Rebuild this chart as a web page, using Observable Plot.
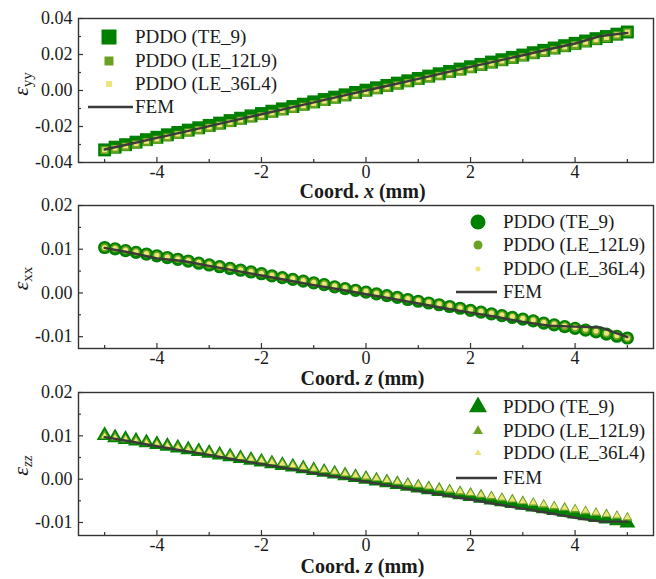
<!DOCTYPE html>
<html><head><meta charset="utf-8">
<script src="https://cdn.jsdelivr.net/npm/d3@7"></script>
<script src="https://cdn.jsdelivr.net/npm/@observablehq/plot@0.6"></script>
<style>
body{margin:0;background:#fff;}
#chart{width:656px;height:579px;position:relative;}
#chart svg{display:block;overflow:visible;}
</style></head><body><div id="chart"></div>
<script>
// ---- data ----
const coords = [-5.0,-4.8,-4.6,-4.4,-4.2,-4.0,-3.8,-3.6,-3.4,-3.2,-3.0,-2.8,-2.6,-2.4,-2.2,-2.0,-1.8,-1.6,-1.4,-1.2,-1.0,-0.8,-0.6,-0.4,-0.2,0.0,0.2,0.4,0.6,0.8,1.0,1.2,1.4,1.6,1.8,2.0,2.2,2.4,2.6,2.8,3.0,3.2,3.4,3.6,3.8,4.0,4.2,4.4,4.6,4.8,5.0];
const femCoords = [-5.0,-4.5,-4.0,-3.5,-3.0,-2.5,-2.0,-1.5,-1.0,-0.5,0.0,0.5,1.0,1.5,2.0,2.5,3.0,3.5,4.0,4.5,5.0];
const seriesNames = ["PDDO (TE_9)","PDDO (LE_12L9)","PDDO (LE_36L4)","FEM"];
const xMajorTicks = [-4,-2,0,2,4];
const xMinorTicks = [-5,-3,-1,1,3,5];

// eps_yy vs x
const eyyTE9 = [-0.0330,-0.0315,-0.0301,-0.0287,-0.0273,-0.0260,-0.0246,-0.0233,-0.0220,-0.0207,-0.0194,-0.0181,-0.0167,-0.0154,-0.0141,-0.0128,-0.0115,-0.0102,-0.0089,-0.0076,-0.0063,-0.0050,-0.0037,-0.0024,-0.0011,0.0002,0.0015,0.0028,0.0041,0.0054,0.0067,0.0080,0.0093,0.0106,0.0119,0.0132,0.0145,0.0158,0.0171,0.0184,0.0197,0.0210,0.0223,0.0236,0.0249,0.0262,0.0275,0.0288,0.0300,0.0313,0.0325];
const eyyLE12 = [-0.0331,-0.0324,-0.0312,-0.0299,-0.0286,-0.0273,-0.0260,-0.0246,-0.0233,-0.0220,-0.0207,-0.0194,-0.0181,-0.0168,-0.0155,-0.0142,-0.0128,-0.0115,-0.0102,-0.0089,-0.0076,-0.0063,-0.0050,-0.0037,-0.0024,-0.0011,0.0003,0.0016,0.0029,0.0042,0.0055,0.0068,0.0081,0.0094,0.0107,0.0120,0.0134,0.0147,0.0160,0.0173,0.0186,0.0199,0.0212,0.0225,0.0238,0.0252,0.0265,0.0278,0.0292,0.0306,0.0323];
const eyyLE36 = [-0.0330,-0.0320,-0.0308,-0.0295,-0.0282,-0.0269,-0.0256,-0.0242,-0.0229,-0.0216,-0.0203,-0.0190,-0.0177,-0.0164,-0.0151,-0.0138,-0.0124,-0.0111,-0.0098,-0.0085,-0.0072,-0.0059,-0.0046,-0.0033,-0.0020,-0.0007,0.0007,0.0020,0.0033,0.0046,0.0059,0.0072,0.0085,0.0098,0.0111,0.0124,0.0138,0.0151,0.0164,0.0177,0.0190,0.0203,0.0216,0.0229,0.0242,0.0256,0.0269,0.0282,0.0295,0.0309,0.0324];
const eyyFEM = [-0.0328,-0.0296,-0.0263,-0.0231,-0.0198,-0.0165,-0.0132,-0.0099,-0.0066,-0.0033,0.0000,0.0032,0.0065,0.0098,0.0131,0.0163,0.0196,0.0229,0.0261,0.0303,0.0320];

// eps_xx vs z
const exxTE9 = [0.0104,0.0101,0.0097,0.0093,0.0089,0.0085,0.0081,0.0077,0.0073,0.0068,0.0064,0.0060,0.0056,0.0052,0.0048,0.0044,0.0039,0.0035,0.0031,0.0027,0.0023,0.0019,0.0014,0.0010,0.0006,0.0002,-0.0002,-0.0006,-0.0010,-0.0015,-0.0019,-0.0023,-0.0027,-0.0031,-0.0035,-0.0040,-0.0044,-0.0048,-0.0052,-0.0056,-0.0060,-0.0064,-0.0069,-0.0073,-0.0077,-0.0081,-0.0085,-0.0089,-0.0094,-0.0099,-0.0103];
const exxLE12 = [0.0104,0.0102,0.0098,0.0094,0.0090,0.0086,0.0082,0.0078,0.0074,0.0069,0.0065,0.0061,0.0057,0.0053,0.0049,0.0045,0.0040,0.0036,0.0032,0.0028,0.0024,0.0020,0.0015,0.0011,0.0007,0.0003,-0.0001,-0.0005,-0.0009,-0.0014,-0.0018,-0.0022,-0.0026,-0.0030,-0.0034,-0.0039,-0.0043,-0.0047,-0.0051,-0.0055,-0.0059,-0.0063,-0.0068,-0.0072,-0.0076,-0.0080,-0.0084,-0.0088,-0.0093,-0.0098,-0.0103];
const exxLE36 = [0.0104,0.0102,0.0098,0.0094,0.0090,0.0086,0.0082,0.0078,0.0074,0.0070,0.0066,0.0062,0.0057,0.0053,0.0049,0.0045,0.0041,0.0037,0.0033,0.0028,0.0024,0.0020,0.0016,0.0012,0.0008,0.0004,-0.0001,-0.0005,-0.0009,-0.0013,-0.0017,-0.0021,-0.0025,-0.0029,-0.0034,-0.0038,-0.0042,-0.0046,-0.0050,-0.0054,-0.0058,-0.0062,-0.0067,-0.0071,-0.0075,-0.0079,-0.0083,-0.0087,-0.0092,-0.0097,-0.0103];
const exxFEM = [0.0103,0.0092,0.0079,0.0073,0.0062,0.0051,0.0040,0.0029,0.0018,0.0008,-0.0003,-0.0013,-0.0024,-0.0035,-0.0045,-0.0055,-0.0066,-0.0075,-0.0077,-0.0079,-0.0101];

// eps_zz vs z
const ezzTE9 = [0.0101,0.0096,0.0092,0.0088,0.0084,0.0080,0.0076,0.0072,0.0068,0.0064,0.0060,0.0056,0.0052,0.0048,0.0044,0.0040,0.0036,0.0032,0.0028,0.0024,0.0020,0.0016,0.0012,0.0008,0.0004,0.0000,-0.0004,-0.0008,-0.0012,-0.0016,-0.0020,-0.0024,-0.0028,-0.0032,-0.0036,-0.0040,-0.0044,-0.0048,-0.0052,-0.0056,-0.0060,-0.0064,-0.0068,-0.0072,-0.0076,-0.0080,-0.0084,-0.0088,-0.0092,-0.0096,-0.0101];
const ezzLE12 = [0.0100,0.0096,0.0092,0.0089,0.0085,0.0081,0.0077,0.0074,0.0070,0.0066,0.0062,0.0058,0.0055,0.0051,0.0047,0.0043,0.0040,0.0036,0.0032,0.0028,0.0024,0.0021,0.0017,0.0013,0.0009,0.0005,0.0002,-0.0002,-0.0006,-0.0010,-0.0013,-0.0017,-0.0021,-0.0025,-0.0029,-0.0032,-0.0036,-0.0040,-0.0044,-0.0047,-0.0051,-0.0055,-0.0059,-0.0063,-0.0066,-0.0070,-0.0074,-0.0078,-0.0081,-0.0085,-0.0089];
const ezzLE36 = [0.0099,0.0095,0.0092,0.0088,0.0084,0.0081,0.0077,0.0073,0.0069,0.0066,0.0062,0.0058,0.0054,0.0051,0.0047,0.0043,0.0039,0.0036,0.0032,0.0028,0.0024,0.0021,0.0017,0.0013,0.0009,0.0006,0.0002,-0.0002,-0.0006,-0.0009,-0.0013,-0.0017,-0.0021,-0.0024,-0.0028,-0.0032,-0.0036,-0.0039,-0.0043,-0.0047,-0.0051,-0.0054,-0.0058,-0.0062,-0.0066,-0.0069,-0.0073,-0.0077,-0.0081,-0.0084,-0.0088];
const ezzFEM = [0.0097,0.0087,0.0076,0.0066,0.0056,0.0045,0.0035,0.0025,0.0014,0.0004,-0.0006,-0.0016,-0.0027,-0.0037,-0.0047,-0.0058,-0.0068,-0.0078,-0.0089,-0.0098,-0.0098];

// ---- style ----
const COLORS = ["#008000", "#6aa121", "#eee57a"];
const FEM_COLOR = "#3a3a3a";
const FONT = "'Liberation Serif','Times New Roman',Times,serif";
const INK = "#1a1a1a";

const panels = [
  {h:192, mt:18, mb:30, yDomain:[-0.04,0.04], yMajor:[-0.04,-0.02,0,0.02,0.04], yMinor:[-0.03,-0.01,0.01,0.03],
   symbol:"square", d3sym:d3.symbolSquare, r:[7.3,4.6,2.8], lsize:[225,81,36],
   values:[eyyTE9,eyyLE12,eyyLE36], fem:eyyFEM, axisVar:"x", ySub:"yy", subItalic:false, labelGap:36, yLabelShift:-6,
   legend:{sx:109, tx:135, rows:[37,61,84,107], lx:[88,133]}},
  {h:190, mt:13, mb:34, yDomain:[-0.0127,0.02], yMajor:[-0.01,0,0.01,0.02], yMinor:[-0.005,0.005,0.015],
   symbol:"circle", d3sym:d3.symbolCircle, r:[6.6,4.2,2.6], lsize:[177,64,20],
   values:[exxTE9,exxLE12,exxLE36], fem:exxFEM, axisVar:"z", ySub:"xx", subItalic:false, labelGap:37, yLabelShift:2,
   legend:{sx:478, tx:503, rows:[30,53,77,100], lx:[456,497]}},
  {h:197, mt:10, mb:44, yDomain:[-0.013,0.02], yMajor:[-0.01,0,0.01,0.02], yMinor:[-0.005,0.005,0.015],
   symbol:"triangle", d3sym:d3.symbolTriangle, r:[5.9,3.8,2.5], lsize:[140,43,21],
   values:[ezzTE9,ezzLE12,ezzLE36], fem:ezzFEM, axisVar:"z", ySub:"zz", subItalic:true, labelGap:38, yLabelShift:2,
   legend:{sx:478, tx:503, rows:[25,49,71,96], lx:[456,497]}}
];

const container = document.getElementById("chart");
const W = 656, ML = 78, MR = 3;

for (const p of panels) {
  const innerH = p.h - p.mt - p.mb;
  const innerW = W - ML - MR;
  const femData = femCoords.map((c, i) => ({c, v: p.fem[i]}));
  const dotMarks = p.values.map((vals, k) =>
    Plot.dot(coords.map((c, i) => ({c, v: vals[i]})),
      {x: "c", y: "v", symbol: p.symbol, r: p.r[k], fill: COLORS[k], stroke: "none"}));
  const chart = Plot.plot({
    width: W, height: p.h, marginLeft: ML, marginRight: MR, marginTop: p.mt, marginBottom: p.mb,
    style: {fontFamily: FONT, fontSize: "18px", color: INK, background: "transparent", overflow: "visible"},
    x: {domain: [-5.5, 5.5], ticks: xMajorTicks, tickSize: 0, tickPadding: 3, label: null, tickFormat: d => String(d)},
    y: {domain: p.yDomain, ticks: p.yMajor, tickSize: 0, tickPadding: 6, label: null, tickFormat: d => d.toFixed(2)},
    marks: [
      ...dotMarks,
      Plot.line(femData, {x: "c", y: "v", stroke: FEM_COLOR, strokeWidth: 2.4}),
      Plot.frame({stroke: "#333", strokeWidth: 1.4}),
      Plot.tickX(xMajorTicks, {x: d => d, insetTop: innerH - 5, stroke: "#333", strokeWidth: 1.2}),
      Plot.tickX(xMinorTicks, {x: d => d, insetTop: innerH - 3, stroke: "#333", strokeWidth: 1.2}),
      Plot.tickY(p.yMajor, {y: d => d, insetRight: innerW - 5, stroke: "#333", strokeWidth: 1.2}),
      Plot.tickY(p.yMinor, {y: d => d, insetRight: innerW - 3, stroke: "#333", strokeWidth: 1.2})
    ]
  });
  container.appendChild(chart);
  const svg = d3.select(chart);
  const xs = chart.scale("x"), ys = chart.scale("y");

  // x axis title
  const xt = svg.append("text")
    .attr("x", xs.apply(0) - 3).attr("y", p.h - p.mb + p.labelGap)
    .attr("text-anchor", "middle").attr("font-family", FONT).attr("font-size", 20)
    .attr("font-weight", "bold").attr("fill", INK);
  xt.append("tspan").text("Coord. ");
  xt.append("tspan").attr("font-style", "italic").text(p.axisVar);
  xt.append("tspan").text(" (mm)");

  // y axis title
  const yMid = (ys.apply(p.yDomain[0]) + ys.apply(p.yDomain[1])) / 2 + p.yLabelShift;
  const yt = svg.append("text")
    .attr("transform", `translate(28,${yMid}) rotate(-90)`)
    .attr("text-anchor", "middle").attr("font-family", FONT).attr("fill", INK);
  yt.append("tspan").attr("font-style", "italic").attr("font-size", 22).text("ε");
  yt.append("tspan").attr("font-size", 15).attr("dy", 4)
    .attr("font-style", p.subItalic ? "italic" : "normal").text(p.ySub);

  // legend
  const lg = svg.append("g").attr("font-family", FONT).attr("font-size", 19)
    .attr("fill", INK).attr("text-anchor", "start");
  const L = p.legend;
  for (let k = 0; k < 3; k++) {
    lg.append("path")
      .attr("d", d3.symbol().type(p.d3sym).size(p.lsize[k])())
      .attr("transform", `translate(${L.sx},${L.rows[k]})`)
      .attr("fill", COLORS[k]);
  }
  lg.append("line").attr("x1", L.lx[0]).attr("x2", L.lx[1])
    .attr("y1", L.rows[3]).attr("y2", L.rows[3])
    .attr("stroke", FEM_COLOR).attr("stroke-width", 2.4);
  seriesNames.forEach((name, k) => {
    lg.append("text").attr("x", L.tx).attr("y", L.rows[k]).attr("dy", "0.34em")
      .attr("text-anchor", "start").text(name);
  });
}
</script></body></html>
